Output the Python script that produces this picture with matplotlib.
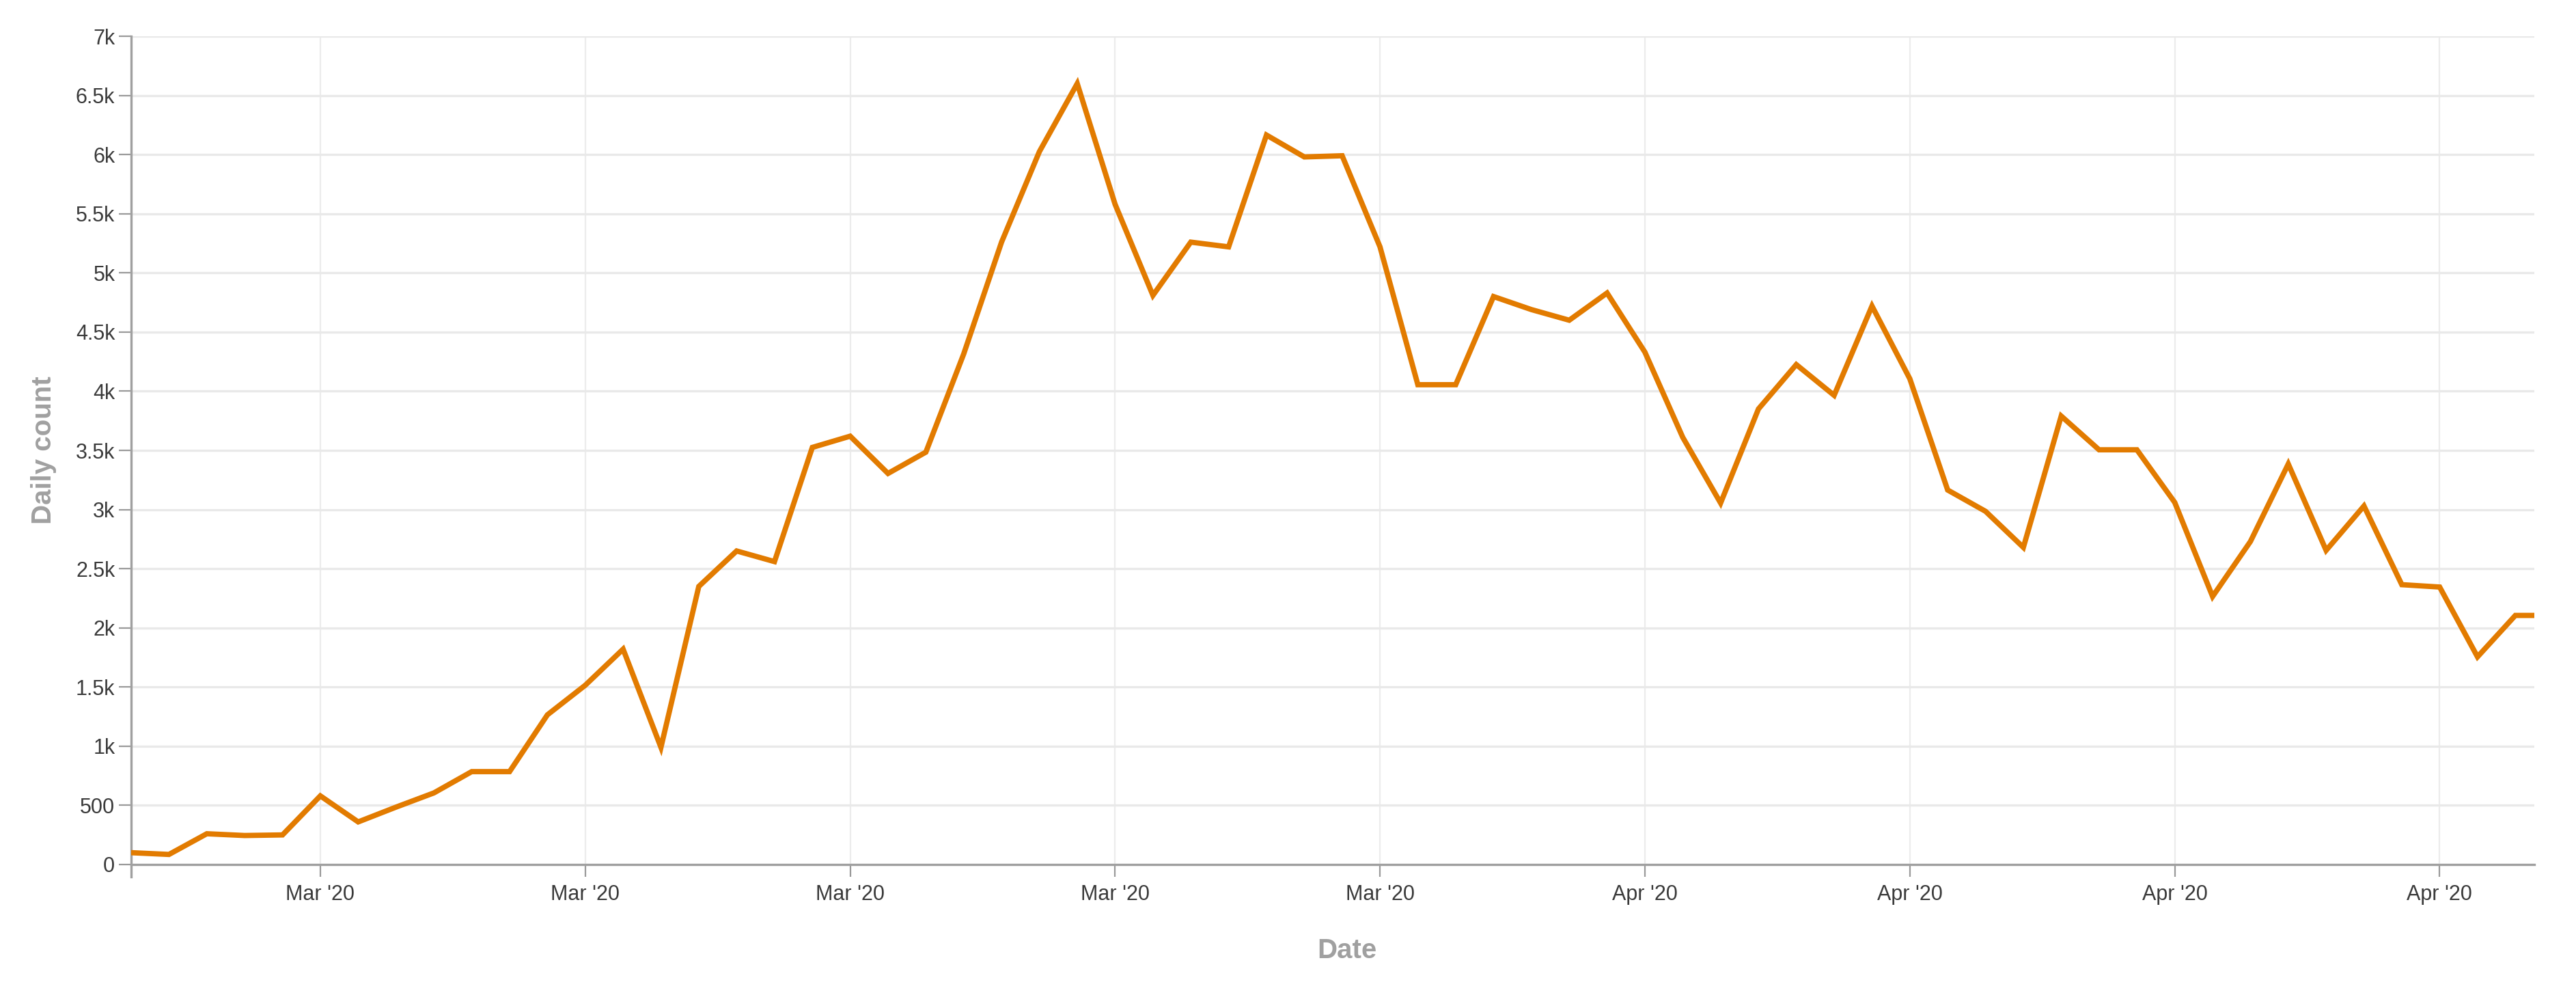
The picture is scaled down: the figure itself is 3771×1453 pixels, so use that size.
import numpy as np
import pandas as pd
import matplotlib
matplotlib.use("Agg")
import matplotlib.pyplot as plt
import matplotlib.dates as mdates

# daily counts, 25 Feb 2020 onwards
start_date = "2020-02-25"
feb_counts = [100, 85, 260, 245, 250]
mar_counts = [580, 360, 485, 605, 785, 785, 1265, 1515, 1820, 990,
              2350, 2650, 2560, 3525, 3620, 3305, 3485, 4315, 5260, 6025,
              6600, 5580, 4810, 5260, 5220, 6165, 5980, 5990, 5220, 4055,
              4055]
apr_counts = [4800, 4690, 4600, 4830, 4330, 3610, 3055, 3850, 4225, 3965,
              4720, 4105, 3165, 2985, 2680, 3790, 3505, 3505, 3060, 2265,
              2730, 3385, 2655, 3030, 2365, 2345, 1755, 2105, 2105]

y_ticks = [0, 500, 1000, 1500, 2000, 2500, 3000, 3500,
           4000, 4500, 5000, 5500, 6000, 6500, 7000]
y_tick_labels = ["0", "500", "1k", "1.5k", "2k", "2.5k", "3k", "3.5k",
                 "4k", "4.5k", "5k", "5.5k", "6k", "6.5k", "7k"]

counts = feb_counts + mar_counts + apr_counts
dates = pd.date_range(start_date, periods=len(counts), freq="D")

plt.rcParams['font.family'] = ['Liberation Sans', 'DejaVu Sans']

fig = plt.figure(figsize=(37.71, 14.53), dpi=100)
ax = fig.add_axes([0.0509, 0.1294, 0.9329, 0.8341])

ax.plot(dates, counts, color="#e27b00", linewidth=5.6, solid_joinstyle="miter",
        zorder=3)

ax.set_xlim(dates[0], dates[0] + pd.Timedelta(days=63.5))
ax.set_ylim(0, 7000)

ax.xaxis.set_major_locator(mdates.WeekdayLocator(byweekday=mdates.SU))
ax.xaxis.set_major_formatter(mdates.DateFormatter("%b '%y"))
ax.set_yticks(y_ticks)
ax.set_yticklabels(y_tick_labels)

ax.grid(True, axis="y", color="#e9e9e9", linewidth=2.4)
ax.grid(True, axis="x", color="#ececec", linewidth=1.6)
ax.set_axisbelow(True)

for s in ["top", "right"]:
    ax.spines[s].set_visible(False)
for s in ["left", "bottom"]:
    ax.spines[s].set_color("#a0a0a0")
    ax.spines[s].set_linewidth(2.4)
ax.spines["left"].set_bounds(-105, 7000)

ax.tick_params(axis="both", direction="out", length=13, width=1.6,
               color="#9a9a9a", labelcolor="#3a3a3a", labelsize=22)
ax.tick_params(axis="y", pad=4)
ax.tick_params(axis="x", pad=8)

ax.set_xlabel("Date", fontsize=29, fontweight="bold", color="#a0a0a0")
ax.set_ylabel("Daily count", fontsize=29, fontweight="bold", color="#a0a0a0")
ax.xaxis.set_label_coords(0.506, -0.088)
ax.yaxis.set_label_coords(-0.031, 0.5)

fig.savefig("out.png", dpi=100, facecolor="white")
